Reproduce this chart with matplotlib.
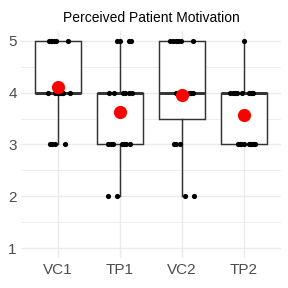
import numpy as np
import matplotlib
matplotlib.use("Agg")
import matplotlib.pyplot as plt

plt.rcParams['font.family'] = ['Liberation Sans', 'DejaVu Sans']

groups = ['VC1', 'TP1', 'VC2', 'TP2']

# ratings per group (value, horizontal jitter offset)
vc1_vals = [5]*6 + [4]*9 + [3]*4
vc1_jit = [-0.145, -0.12, -0.10, -0.07, -0.04, 0.16,
           -0.16, -0.05, -0.02, 0.0, 0.02, 0.04, 0.06, 0.08, 0.19,
           -0.13, -0.09, -0.05, 0.11]

tp1_vals = [5]*4 + [4]*6 + [3]*7 + [2]*2
tp1_jit = [-0.05, 0.0, 0.14, 0.18,
           -0.18, -0.10, 0.05, 0.08, 0.14, 0.19,
           -0.19, -0.15, -0.11, 0.03, 0.07, 0.10, 0.16,
           -0.19, -0.05]

vc2_vals = [5]*6 + [4]*8 + [3]*3 + [2]*2
vc2_jit = [-0.19, -0.15, -0.10, -0.06, -0.02, 0.18,
           -0.10, -0.07, -0.04, -0.01, 0.02, 0.11, 0.14, 0.18,
           -0.13, -0.10, -0.04,
           0.05, 0.19]

tp2_vals = [5]*1 + [4]*9 + [3]*9
tp2_jit = [0.0,
           -0.22, -0.18, -0.15, -0.12, -0.03, 0.08, 0.10, 0.13, 0.15,
           -0.10, -0.07, -0.05, 0.0, 0.08, 0.10, 0.12, 0.15, 0.18]

data = [vc1_vals, tp1_vals, vc2_vals, tp2_vals]
jitter = [vc1_jit, tp1_jit, vc2_jit, tp2_jit]
pos = np.arange(1, len(groups) + 1)

fig = plt.figure(figsize=(2.88, 2.88), dpi=100)
ax = fig.add_axes([0.0722, 0.1028, 0.9042, 0.791])

line_c = '#333333'
ax.boxplot(data, positions=pos, widths=0.75, whis=1.5, showfliers=False,
           patch_artist=True, capwidths=0,
           boxprops=dict(facecolor='white', edgecolor=line_c, linewidth=1.05),
           whiskerprops=dict(color=line_c, linewidth=1.05),
           capprops=dict(linewidth=0),
           medianprops=dict(color=line_c, linewidth=2.1),
           zorder=2)

for i in range(len(groups)):
    ax.scatter(pos[i] + np.array(jitter[i]), data[i], s=14, color='black',
               linewidths=0, zorder=3)
    ax.scatter([pos[i]], [np.mean(data[i])], s=90, color='red',
               linewidths=0, zorder=4)

ax.set_xlim(0.4, 4.6)
ax.set_ylim(0.8, 5.2)
ax.set_yticks([1, 2, 3, 4, 5])
ax.set_yticks([1.5, 2.5, 3.5, 4.5], minor=True)
ax.set_xticks(pos)
ax.set_xticklabels(groups)
ax.grid(True, which='major', color='#EBEBEB', linewidth=1.0)
ax.grid(True, which='minor', axis='y', color='#EBEBEB', linewidth=0.6)
ax.set_axisbelow(True)
for s in ax.spines.values():
    s.set_visible(False)
ax.tick_params(which='both', length=0, labelsize=11, labelcolor='#4D4D4D', pad=3)

ax.set_title('Perceived Patient Motivation', fontsize=10, color='black', pad=6)

fig.savefig('out.png', dpi=100)
